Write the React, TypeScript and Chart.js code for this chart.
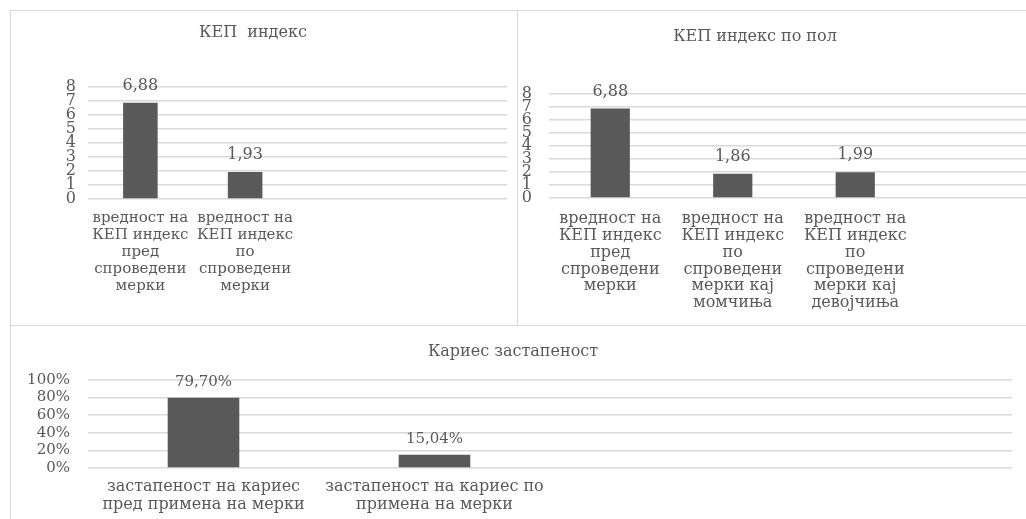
import React, { useEffect, useRef } from "react";
import { Chart, registerables } from "chart.js";

Chart.register(...registerables);

// ---------- data ----------
const kepTitle = "КЕП  индекс";
const kepLabels: string[][] = [
  ["вредност на", "КЕП индекс", "пред", "спроведени", "мерки"],
  ["вредност на", "КЕП индекс", "по", "спроведени", "мерки"],
  [""],
  [""],
];
const kepValues: (number | null)[] = [6.88, 1.93, null, null];

const polTitle = "КЕП индекс по пол";
const polLabels: string[][] = [
  ["вредност на", "КЕП индекс", "пред", "спроведени", "мерки"],
  ["вредност на", "КЕП индекс", "по", "спроведени", "мерки кај", "момчиња"],
  ["вредност на", "КЕП индекс", "по", "спроведени", "мерки кај", "девојчиња"],
  [""],
];
const polValues: (number | null)[] = [6.88, 1.86, 1.99, null];

const kariesTitle = "Кариес застапеност";
const kariesLabels: string[][] = [
  ["застапеност на кариес", "пред примена на мерки"],
  ["застапеност на кариес по", "примена на мерки"],
  [""],
  [""],
];
const kariesValues: (number | null)[] = [79.7, 15.04, null, null];

const indexTicks = { min: 0, max: 8, step: 1 };
const percentTicks = { min: 0, max: 100, step: 20 };

// ---------- styles ----------
const FONT = "'DejaVu Serif', serif";
const TEXT = "#595959";
const BAR = "#595959";
const GRID = "#d9d9d9";

const titlePlugin = {
  id: "panelTitle",
  afterDraw(chart: any, _args: any, opts: any) {
    if (!opts || !opts.text) return;
    const ctx = chart.ctx;
    ctx.save();
    ctx.font = `${opts.size}px ${FONT}`;
    ctx.fillStyle = TEXT;
    ctx.textAlign = "center";
    ctx.textBaseline = "middle";
    ctx.fillText(opts.text, opts.x, opts.y);
    ctx.restore();
  },
};

const valueLabelPlugin = {
  id: "valueLabels",
  afterDatasetsDraw(chart: any, _args: any, opts: any) {
    const ctx = chart.ctx;
    const meta = chart.getDatasetMeta(0);
    const data = chart.data.datasets[0].data;
    ctx.save();
    ctx.font = `${opts.size}px ${FONT}`;
    ctx.fillStyle = TEXT;
    ctx.textAlign = "center";
    ctx.textBaseline = "middle";
    meta.data.forEach((el: any, i: number) => {
      const v = data[i];
      if (v == null) return;
      const txt = v.toFixed(2).replace(".", ",") + (opts.suffix || "");
      ctx.fillText(txt, el.x, el.y - opts.offset);
    });
    ctx.restore();
  },
};

type PanelProps = {
  labels: string[][];
  values: (number | null)[];
  title: string;
  titleX: number;
  titleY: number;
  titleSize: number;
  ticks: { min: number; max: number; step: number };
  suffix: string;
  yWidth: number;
  xHeight: number;
  padTop: number;
  padRight: number;
  tickPadY: number;
  tickPadX: number;
  fontSize: number;
  xFontSize: number;
  lineHeight: number;
  barPct: number;
  labelOffset: number;
  width: number;
  height: number;
};

function Panel(p: PanelProps) {
  const ref = useRef<HTMLCanvasElement>(null);
  useEffect(() => {
    if (!ref.current) return;
    const chart = new Chart(ref.current, {
      type: "bar",
      data: {
        labels: p.labels,
        datasets: [
          {
            data: p.values,
            backgroundColor: BAR,
            borderWidth: 0,
            categoryPercentage: 1,
            barPercentage: p.barPct,
          },
        ],
      },
      options: {
        responsive: false,
        animation: false,
        devicePixelRatio: 1,
        layout: { padding: { top: p.padTop, right: p.padRight, left: 0, bottom: 0 } },
        plugins: {
          legend: { display: false },
          tooltip: { enabled: false },
          title: { display: false },
          panelTitle: { text: p.title, x: p.titleX, y: p.titleY, size: p.titleSize },
          valueLabels: { size: p.fontSize, offset: p.labelOffset, suffix: p.suffix },
        } as any,
        scales: {
          x: {
            grid: { display: false, drawTicks: false },
            border: { display: false },
            ticks: {
              color: TEXT,
              font: { family: FONT, size: p.xFontSize, lineHeight: p.lineHeight },
              padding: p.tickPadX,
              maxRotation: 0,
              minRotation: 0,
              autoSkip: false,
            },
            afterFit: (s: any) => {
              s.height = p.xHeight;
            },
          },
          y: {
            min: p.ticks.min,
            max: p.ticks.max,
            grid: { color: GRID, lineWidth: 1.5, drawTicks: false },
            border: { display: false },
            ticks: {
              stepSize: p.ticks.step,
              autoSkip: false,
              color: TEXT,
              font: { family: FONT, size: p.fontSize, lineHeight: 1 },
              padding: p.tickPadY,
              callback: (v: any) => `${v}${p.suffix}`,
            },
            afterFit: (s: any) => {
              s.width = p.yWidth;
            },
          },
        },
      },
      plugins: [titlePlugin, valueLabelPlugin],
    });
    return () => chart.destroy();
  }, []);
  return <canvas ref={ref} width={p.width} height={p.height} style={{ display: "block" }} />;
}

const boxStyle = (left: number, top: number, width: number, height: number): React.CSSProperties => ({
  position: "absolute",
  left,
  top,
  width,
  height,
  border: `1px solid ${GRID}`,
  boxSizing: "border-box",
  background: "#fff",
});

export default function App() {
  return (
    <div
      style={{
        position: "absolute",
        left: 0,
        top: 0,
        width: 1026,
        height: 519,
        overflow: "hidden",
        background: "#fff",
      }}
    >
      <div style={boxStyle(10, 10, 508, 316)}>
        <Panel
          labels={kepLabels}
          values={kepValues}
          title={kepTitle}
          titleX={242}
          titleY={22}
          titleSize={16}
          ticks={indexTicks}
          suffix=""
          yWidth={77}
          xHeight={126}
          padTop={76}
          padRight={10}
          tickPadY={12}
          tickPadX={11}
          fontSize={16}
          xFontSize={15}
          lineHeight={1.13}
          barPct={0.33}
          labelOffset={17}
          width={506}
          height={314}
        />
      </div>
      <div style={boxStyle(517, 10, 540, 316)}>
        <Panel
          labels={polLabels}
          values={polValues}
          title={polTitle}
          titleX={237}
          titleY={26}
          titleSize={16}
          ticks={indexTicks}
          suffix=""
          yWidth={31}
          xHeight={127}
          padTop={83}
          padRight={17}
          tickPadY={17}
          tickPadX={12}
          fontSize={16}
          xFontSize={16}
          lineHeight={1.06}
          barPct={0.32}
          labelOffset={17}
          width={538}
          height={314}
        />
      </div>
      <div style={boxStyle(10, 325, 1040, 220)}>
        <Panel
          labels={kariesLabels}
          values={kariesValues}
          title={kariesTitle}
          titleX={502}
          titleY={26}
          titleSize={16}
          ticks={percentTicks}
          suffix="%"
          yWidth={77}
          xHeight={76}
          padTop={54}
          padRight={37}
          tickPadY={18}
          tickPadX={10}
          fontSize={15}
          xFontSize={16}
          lineHeight={1.125}
          barPct={0.31}
          labelOffset={16}
          width={1038}
          height={218}
        />
      </div>
    </div>
  );
}
